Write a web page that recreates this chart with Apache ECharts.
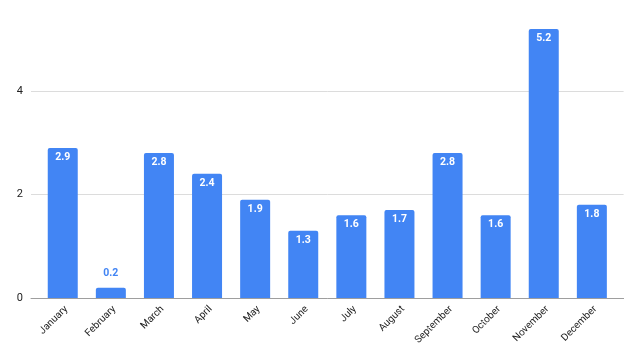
<!DOCTYPE html>
<html>
<head>
<meta charset="utf-8">
<script src="https://cdn.jsdelivr.net/npm/echarts@6/dist/echarts.min.js"></script>
<style>html,body{margin:0;padding:0;background:#fff;}#c{width:640px;height:357px;}</style>
</head>
<body>
<div id="c"></div>
<script>
const months = ['January','February','March','April','May','June','July','August','September','October','November','December'];
const values = [2.9, 0.2, 2.8, 2.4, 1.9, 1.3, 1.6, 1.7, 2.8, 1.6, 5.2, 1.8];
const yTicks = [0, 2, 4, 6];

const chart = echarts.init(document.getElementById('c'));
const blue = '#4285F4';
const data = values.map((v, i) => {
  const small = v < 0.5;
  return {
    value: [i, v],
    label: small ? { position: 'top', distance: 9, color: blue } : { position: 'insideTop', distance: 4, color: '#fff' }
  };
});
chart.setOption({
  animation: false,
  textStyle: { fontFamily: 'Roboto' },
  grid: { left: 31, right: 16.4, top: -12.5, bottom: 59, containLabel: false, outerBoundsMode: 'none' },
  xAxis: {
    type: 'value', min: -0.66, max: 11.66,
    axisLine: { show: true, onZero: false, lineStyle: { color: '#9e9e9e', width: 1 } },
    axisTick: { show: false },
    splitLine: { show: false },
    axisLabel: {
      customValues: months.map((m, i) => i),
      formatter: v => months[Math.round(v)],
      rotate: 45, margin: 6, fontSize: 10, color: '#222', fontFamily: 'Roboto',
      verticalAlign: 'top'
    }
  },
  yAxis: {
    type: 'value', min: yTicks[0], max: yTicks[yTicks.length - 1], interval: 2,
    axisLine: { show: false }, axisTick: { show: false },
    splitLine: { lineStyle: { color: '#dcdcdc', width: 1 } },
    axisLabel: { fontSize: 11, color: '#222', margin: 8, fontFamily: 'Roboto' }
  },
  series: [{
    type: 'bar',
    data: data,
    barWidth: 30,
    itemStyle: { color: blue, borderRadius: [2, 2, 0, 0] },
    label: { show: true, fontSize: 10.5, fontWeight: 'bold', fontFamily: 'Roboto', formatter: p => p.value[1].toFixed(1) }
  }]
});
</script>
</body>
</html>
